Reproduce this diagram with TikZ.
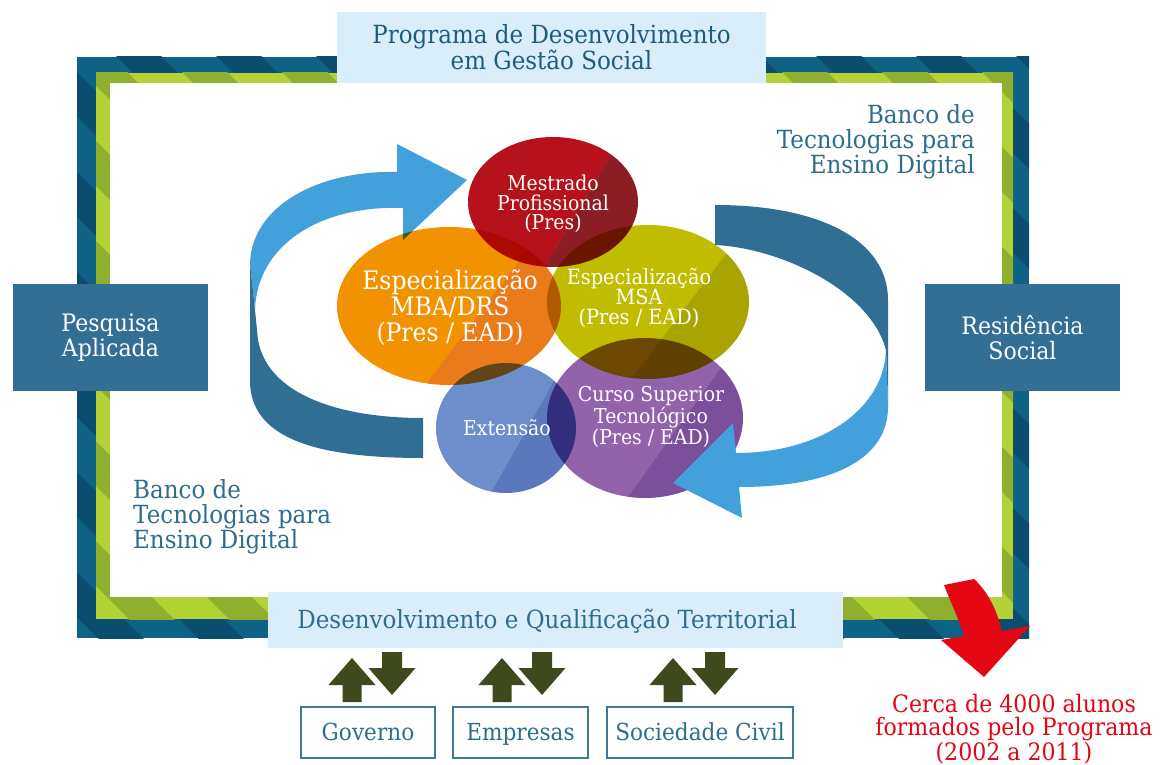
\documentclass[tikz,border=0pt]{standalone}
\usepackage{fontspec}
\setmainfont{DejaVu Serif}[FakeStretch=0.92]
% palette
\definecolor{frameblue}{HTML}{0E6286}
\definecolor{framebluedk}{HTML}{0B4D6E}
\definecolor{framegreen}{HTML}{B2D235}
\definecolor{framegreendk}{HTML}{8FB02F}
\definecolor{panelbg}{HTML}{D9EEFA}
\definecolor{titleink}{HTML}{1B5D7D}
\definecolor{ink}{HTML}{2D6D8D}
\definecolor{sideblue}{HTML}{336F94}
\definecolor{arrowlt}{HTML}{42A1DB}
\definecolor{arrowdk}{HTML}{316E94}
\definecolor{arrowolive}{HTML}{3E4A1C}
\definecolor{alert}{HTML}{E30613}
\definecolor{boxline}{HTML}{3C7A98}
\definecolor{mestlt}{HTML}{B5121B}
\definecolor{mestdk}{HTML}{8C1D22}
\definecolor{mbalt}{HTML}{F39200}
\definecolor{mbadk}{HTML}{EA7A1A}
\definecolor{msalt}{HTML}{C1BC00}
\definecolor{msadk}{HTML}{A8A500}
\definecolor{extlt}{HTML}{6C8FCB}
\definecolor{extdk}{HTML}{5979BC}
\definecolor{cstlt}{HTML}{9263AA}
\definecolor{cstdk}{HTML}{7C4F9D}
\begin{document}
\begin{tikzpicture}[x=1pt,y=-1pt,
  panel/.style={fill=panelbg, inner sep=0pt},
  sidebox/.style={fill=sideblue, text=white, align=center, inner sep=0pt,
    minimum width=195pt, minimum height=107pt, font=\fontsize{24}{25}\selectfont},
  orgbox/.style={draw=boxline, line width=1.4pt, fill=white, text=ink, inner sep=0pt,
    minimum height=51pt, text height=20pt, text depth=4pt,
    font=\fontsize{23.5}{25}\selectfont},
  blobtext/.style={text=white, align=center, inner sep=0pt},
  inktext/.style={text=ink, inner sep=0pt, font=\fontsize{25}{25}\selectfont},
  shade/.style={blend mode=multiply},
]
\useasboundingbox (0,0) rectangle (1160,765);

% ---- striped frame ----
\fill[frameblue] (77,57) rectangle (1029,638);
\begin{scope}
  \clip (77,57) rectangle (1029,638);
  \foreach \c in {-640,-540,...,1100}
    \fill[framebluedk] (\c,0) -- ++(45,0) -- ++(700,700) -- ++(-45,0) -- cycle;
\end{scope}
\fill[framegreen] (96,73) rectangle (1013,619);
\begin{scope}
  \clip (96,73) rectangle (1013,619);
  \foreach \c in {-590,-490,...,1100}
    \fill[framegreendk] (\c,0) -- ++(45,0) -- ++(700,700) -- ++(-45,0) -- cycle;
\end{scope}
\fill[white] (110,83) rectangle (1002,597);

% ---- panels and side boxes ----
\node[panel, minimum width=429pt, minimum height=71pt, text=titleink, align=center,
  font=\fontsize{25}{26}\selectfont] (title) at (551.5,47.5)
  {Programa de Desenvolvimento\\em Gestão Social};
\node[panel, minimum width=575pt, minimum height=56pt] (bar) at (555.5,620) {};
\node[inktext] (barlabel) at (547,621)
  {Desenvolvimento e Qualificação Territorial};
\node[sidebox] (pesquisa) at (110.5,337.5) {Pesquisa\\Aplicada};
\node[sidebox] (residencia) at (1022.5,337.5) {Residência\\Social};

% ---- left cycle arrow (behind the circles) ----
\fill[arrowlt] (403,208) .. controls (320,205) and (257,245) .. (255,310)
  -- (250,263) .. controls (252,205) and (320,170) .. (397,172)
  -- (397,144) -- (467,180) -- (403,240) -- cycle;
\fill[arrowdk] (250,263) -- (250,383) .. controls (252,440) and (320,458) .. (423,458)
  -- (423,418) .. controls (340,418) and (268,395) .. (258,340) -- (255,310) -- cycle;

% ---- overlapping circles ----
\begin{scope}
  \clip (553,202) ellipse [x radius=85pt, y radius=65pt];
  \fill[shade, mestlt] (626,130) -- (537,280) -- (300,280) -- (300,130) -- cycle;
  \fill[shade, mestdk] (626,130) -- (537,280) -- (800,280) -- (800,130) -- cycle;
\end{scope}
\begin{scope}
  \clip (449,306) ellipse [x radius=112pt, y radius=79pt];
  \fill[shade, mbalt] (550,220) -- (422,390) -- (200,390) -- (200,220) -- cycle;
  \fill[shade, mbadk] (550,220) -- (422,390) -- (700,390) -- (700,220) -- cycle;
\end{scope}
\begin{scope}
  \clip (648,302) ellipse [x radius=101pt, y radius=77pt];
  \fill[shade, msalt] (752,220) -- (627,385) -- (400,385) -- (400,220) -- cycle;
  \fill[shade, msadk] (752,220) -- (627,385) -- (900,385) -- (900,220) -- cycle;
\end{scope}
\begin{scope}
  \clip (506,428) ellipse [x radius=70pt, y radius=65pt];
  \fill[shade, extlt] (566,360) -- (490,495) -- (300,495) -- (300,360) -- cycle;
  \fill[shade, extdk] (566,360) -- (490,495) -- (700,495) -- (700,360) -- cycle;
\end{scope}
\begin{scope}
  \clip (645,418) ellipse [x radius=98pt, y radius=80pt];
  \fill[shade, cstlt] (745,335) -- (626,500) -- (400,500) -- (400,335) -- cycle;
  \fill[shade, cstdk] (745,335) -- (626,500) -- (900,500) -- (900,335) -- cycle;
\end{scope}

% ---- right cycle arrow (in front of the circles) ----
\fill[arrowdk] (715,205) .. controls (820,205) and (888,240) .. (888,300) -- (888,407)
  -- (886,350) .. controls (870,290) and (780,248) .. (715,245) -- cycle;
\fill[arrowlt] (886,350) -- (888,407) .. controls (888,455) and (840,487) .. (739,487)
  -- (742,518) -- (673,483) -- (733,423) -- (736,453)
  .. controls (820,453) and (884,410) .. (886,350) -- cycle;

% ---- circle labels ----
\node[blobtext, font=\fontsize{20.5}{19.5}\selectfont] (mestrado) at (553,204)
  {Mestrado\\Profissional\\(Pres)};
\node[blobtext, font=\fontsize{25.5}{26}\selectfont] (mba) at (450,308)
  {Especialização\\MBA/DRS\\(Pres / EAD)};
\node[blobtext, font=\fontsize{21}{20}\selectfont] (msa) at (639,298)
  {Especialização\\MSA\\(Pres / EAD)};
\node[blobtext, font=\fontsize{20.5}{20}\selectfont] (extensao) at (507,428) {Extensão};
\node[blobtext, font=\fontsize{20.5}{19.5}\selectfont] (cst) at (651,417)
  {Curso Superior\\Tecnológico\\(Pres / EAD)};

% ---- side captions ----
\node[inktext, anchor=east, align=right] (bancotop) at (975,142)
  {Banco de\\Tecnologias para\\Ensino Digital};
\node[inktext, anchor=west, align=left] (bancobottom) at (133,517)
  {Banco de\\Tecnologias para\\Ensino Digital};

% ---- exchange arrows and partners ----
\foreach \u/\d in {352/392, 502/542, 673/715} {
  \fill[arrowolive] (\u,658) -- (\u+23.5,685) -- (\u+9.5,685) -- (\u+9.5,702)
    -- (\u-9.5,702) -- (\u-9.5,685) -- (\u-23.5,685) -- cycle;
  \fill[arrowolive] (\d-10,652) -- (\d+10,652) -- (\d+10,668) -- (\d+23.5,668)
    -- (\d,695) -- (\d-23.5,668) -- (\d-10,668) -- cycle;
}
\node[orgbox, minimum width=134pt] (governo) at (368,732.5) {Governo};
\node[orgbox, minimum width=135pt] (empresas) at (520.5,732.5) {Empresas};
\node[orgbox, minimum width=186pt] (sociedade) at (700,732.5) {Sociedade Civil};

% ---- outcome arrow ----
\fill[alert] (944,585) .. controls (954,610) and (961,625) .. (964,636)
  -- (941,640) -- (984,677) -- (1030,626) -- (1002,631)
  .. controls (997,612) and (990,594) .. (974,579) -- cycle;
\node[text=alert, align=center, inner sep=0pt, font=\fontsize{24}{23.5}\selectfont]
  (alunos) at (1014,729) {Cerca de 4000 alunos\\formados pelo Programa\\(2002 a 2011)};
\end{tikzpicture}
\end{document}
